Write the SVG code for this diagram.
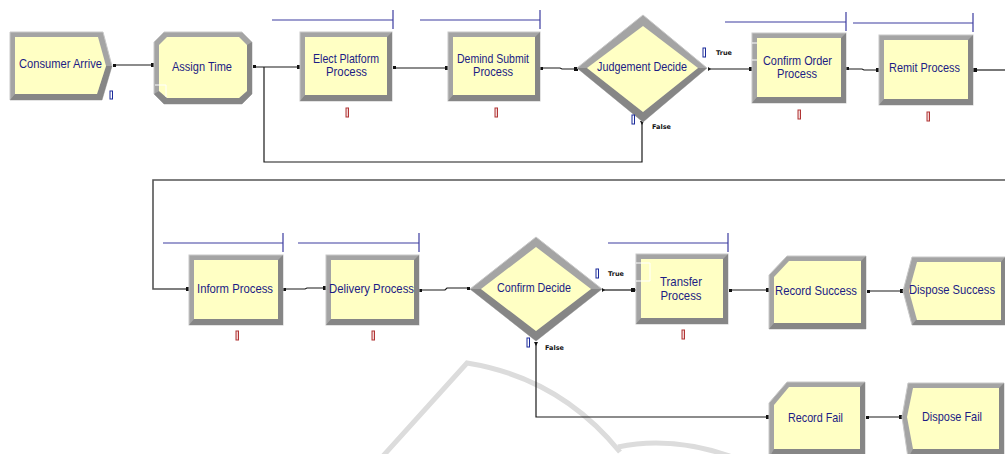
<svg xmlns="http://www.w3.org/2000/svg" width="1005" height="454" viewBox="0 0 1005 454">
<style>
.frame{fill:#a4a4a4;stroke:#c8c8c8;stroke-width:1}
.shade{fill:#868686}
.face{fill:#ffffc4}
.lbl{font-family:"Liberation Sans",Arial,sans-serif;font-size:13px;fill:#1c1c84;text-anchor:middle}
.tf{font-family:"DejaVu Sans",sans-serif;font-size:6.5px;font-weight:bold;fill:#111}
.conn{fill:none;stroke:#1a1a1a;stroke-width:1.2}
.loop{fill:none;stroke:#555;stroke-width:1.6}
.q{fill:none;stroke:#3c3ca0;stroke-width:1.2}
.bq{fill:#fff;stroke:#1a2a9a;stroke-width:1}
.rq{fill:#f2d4d4;stroke:#b03434;stroke-width:1}
.dot{fill:#111}
.wm{fill:none;stroke:#dcdcdc;stroke-width:5}
</style>
<rect width="1005" height="454" fill="#fff"/>
<g id="watermark">
<path class="wm" d="M383,456 L467,363 Q560,378 620,452"/>
<path class="wm" d="M618,447 Q670,436 730,456"/>
</g>
<g id="connectors">
<path class="conn" d="M113,65 H154"/>
<path class="conn" d="M253,67 H300"/>
<path class="conn" d="M642,123 V162 H264 V67"/>
<path class="conn" d="M393,68 H448"/>
<path class="conn" d="M541,68 H560 L562,69 H577"/>
<path class="conn" d="M709,69 H752"/>
<path class="conn" d="M847,69 H862 L864,70 H879"/>
<path class="loop" d="M974,70 H1005"/>
<path class="loop" d="M1005,180 H153 V289 H189"/>
<path class="conn" d="M284,289 H305 L307,288 H326"/>
<path class="conn" d="M420,290 H445 L447,288 H470"/>
<path class="conn" d="M604,290 H636"/>
<path class="conn" d="M729,290 H769"/>
<path class="conn" d="M867,291 H903"/>
<path class="conn" d="M536,343 V417 H769"/>
<path class="conn" d="M866,417 H902"/>
<rect class="dot" x="113" y="64" width="3" height="3"/>
<rect class="dot" x="151" y="63" width="4" height="4"/>
<rect class="dot" x="253" y="65" width="3" height="3"/>
<rect class="dot" x="297" y="65" width="4" height="4"/>
<rect class="dot" x="393" y="66" width="3" height="3"/>
<rect class="dot" x="445" y="66" width="4" height="4"/>
<rect class="dot" x="540" y="67" width="3" height="3"/>
<rect class="dot" x="574" y="67" width="4" height="4"/>
<path class="dot" d="M708,67 L711,69 L708,71 Z"/>
<rect class="dot" x="749" y="67" width="4" height="4"/>
<path class="dot" d="M640,121 L644,121 L642,125 Z"/>
<rect class="dot" x="846" y="67" width="3" height="3"/>
<rect class="dot" x="876" y="68" width="4" height="4"/>
<rect class="dot" x="973" y="68" width="4" height="4"/>
<rect class="dot" x="186" y="287" width="4" height="4"/>
<rect class="dot" x="283" y="288" width="3" height="3"/>
<rect class="dot" x="323" y="286" width="4" height="4"/>
<rect class="dot" x="419" y="289" width="3" height="3"/>
<rect class="dot" x="467" y="287" width="3" height="3"/>
<path class="dot" d="M602,288 L605,290 L602,292 Z"/>
<rect class="dot" x="631" y="288" width="4" height="4"/>
<rect class="dot" x="729" y="289" width="3" height="3"/>
<rect class="dot" x="766" y="288" width="4" height="4"/>
<rect class="dot" x="867" y="290" width="3" height="3"/>
<rect class="dot" x="900" y="289" width="4" height="4"/>
<path class="dot" d="M534,342 L538,342 L536,346 Z"/>
<rect class="dot" x="766" y="415" width="4" height="4"/>
<rect class="dot" x="866" y="416" width="3" height="3"/>
<rect class="dot" x="899" y="415" width="4" height="4"/>
</g>
<g id="consumer-arrive">
<polygon class="frame" points="10,32 103,32 112,66 102,100 10,100"/>
<polygon class="shade" points="10,100 102,100 112,66 106,66 97,94 15,94"/>
<polygon class="face" points="15,37 98,37 106,66 97,94 15,94"/>
<text class="lbl" x="60.5" y="68" textLength="83" lengthAdjust="spacingAndGlyphs">Consumer Arrive</text>
<rect class="bq" x="110" y="91" width="2.5" height="8"/>
</g>
<g id="assign-time">
<polygon class="frame" points="164,32 242,32 252,42 252,94 242,104 164,104 154,94 154,42"/>
<polygon class="shade" points="154,94 164,104 242,104 252,94 252,42 247,45 247,91 239,98 167,98 159,91"/>
<polygon class="face" points="167,37 239,37 247,45 247,91 239,98 167,98 159,91 159,45"/>
<text class="lbl" x="202" y="71" textLength="60" lengthAdjust="spacingAndGlyphs">Assign Time</text>
<path d="M155,85 H166 V97" fill="none" stroke="#fff" stroke-width="1"/>
</g>
<g id="elect-platform">
<rect class="frame" x="300" y="32" width="92" height="69"/>
<polygon class="shade" points="300,101 392,101 392,32 387,37 387,95 305,95"/>
<rect class="face" x="305" y="37" width="82" height="58"/>
<text class="lbl" x="346" y="63" textLength="66" lengthAdjust="spacingAndGlyphs">Elect Platform</text>
<text class="lbl" x="346.5" y="76" textLength="41" lengthAdjust="spacingAndGlyphs">Process</text>
<path class="q" d="M272,20 H393 M393,10 V29"/>
<rect class="rq" x="346" y="108" width="2.5" height="9"/>
</g>
<g id="demind-submit">
<rect class="frame" x="448" y="32" width="92" height="69"/>
<polygon class="shade" points="448,101 540,101 540,32 535,37 535,95 453,95"/>
<rect class="face" x="453" y="37" width="82" height="58"/>
<text class="lbl" x="493" y="63" textLength="72" lengthAdjust="spacingAndGlyphs">Demind Submit</text>
<text class="lbl" x="493" y="76" textLength="40" lengthAdjust="spacingAndGlyphs">Process</text>
<path class="q" d="M420,20 H540 M540,10 V29"/>
<rect class="rq" x="495" y="108" width="2.5" height="9"/>
</g>
<g id="judgement-decide">
<polygon class="frame" points="577,68 643,15 707,68 643,122"/>
<polygon class="shade" points="707,68 643,122 577,68 587,68 643,112 698,68"/>
<polygon class="face" points="587,68 643,26 698,68 643,112"/>
<text class="lbl" x="642" y="71" textLength="90" lengthAdjust="spacingAndGlyphs">Judgement Decide</text>
<rect class="bq" x="703" y="48" width="2.5" height="9"/>
<text class="tf" x="716" y="55">True</text>
<rect class="bq" x="632" y="115" width="2.5" height="9"/>
<text class="tf" x="652" y="129">False</text>
</g>
<g id="confirm-order">
<rect class="frame" x="752" y="33" width="94" height="70"/>
<polygon class="shade" points="752,103 846,103 846,33 841,38 841,97 757,97"/>
<rect class="face" x="757" y="38" width="84" height="59"/>
<text class="lbl" x="797.5" y="65" textLength="69" lengthAdjust="spacingAndGlyphs">Confirm Order</text>
<text class="lbl" x="797" y="78" textLength="40" lengthAdjust="spacingAndGlyphs">Process</text>
<path d="M752,43 H757 M752,60 H757" fill="none" stroke="#fff" stroke-width="1"/>
<path class="q" d="M725,22 H846 M846,12 V31"/>
<rect class="rq" x="798" y="110" width="2.5" height="9"/>
</g>
<g id="remit-process">
<rect class="frame" x="879" y="35" width="94" height="70"/>
<polygon class="shade" points="879,105 973,105 973,35 968,40 968,99 884,99"/>
<rect class="face" x="884" y="40" width="84" height="59"/>
<text class="lbl" x="924.5" y="72" textLength="71" lengthAdjust="spacingAndGlyphs">Remit Process</text>
<path class="q" d="M853,23 H973 M973,13 V32"/>
<rect class="rq" x="927" y="112" width="2.5" height="9"/>
</g>
<g id="inform-process">
<rect class="frame" x="189" y="255" width="94" height="70"/>
<polygon class="shade" points="189,325 283,325 283,255 278,260 278,319 194,319"/>
<rect class="face" x="194" y="260" width="84" height="59"/>
<text class="lbl" x="235" y="293" textLength="76" lengthAdjust="spacingAndGlyphs">Inform Process</text>
<path class="q" d="M163,243 H283 M283,233 V252"/>
<rect class="rq" x="236" y="331" width="2.5" height="9"/>
</g>
<g id="delivery-process">
<rect class="frame" x="326" y="255" width="93" height="70"/>
<polygon class="shade" points="326,325 419,325 419,255 414,260 414,319 331,319"/>
<rect class="face" x="331" y="260" width="83" height="59"/>
<text class="lbl" x="371.5" y="293" textLength="85" lengthAdjust="spacingAndGlyphs">Delivery Process</text>
<path class="q" d="M298,243 H419 M419,233 V252"/>
<rect class="rq" x="372" y="331" width="2.5" height="9"/>
</g>
<g id="confirm-decide">
<polygon class="frame" points="470,289 536,237 602,289 536,341"/>
<polygon class="shade" points="602,289 536,341 470,289 481,289 536,331 591,289"/>
<polygon class="face" points="481,289 536,247 591,289 536,331"/>
<text class="lbl" x="534" y="292" textLength="74" lengthAdjust="spacingAndGlyphs">Confirm Decide</text>
<rect class="bq" x="596" y="269" width="2.5" height="9"/>
<text class="tf" x="608" y="276">True</text>
<rect class="bq" x="527" y="338" width="2.5" height="9"/>
<text class="tf" x="545" y="350">False</text>
</g>
<g id="transfer-process">
<rect class="frame" x="636" y="254" width="92" height="70"/>
<polygon class="shade" points="636,324 728,324 728,254 723,259 723,318 641,318"/>
<rect class="face" x="641" y="259" width="82" height="59"/>
<text class="lbl" x="681" y="286" textLength="42" lengthAdjust="spacingAndGlyphs">Transfer</text>
<text class="lbl" x="681" y="300" textLength="41" lengthAdjust="spacingAndGlyphs">Process</text>
<path d="M636,263 H650 V281 H636" fill="none" stroke="#fff" stroke-width="1"/>
<path class="q" d="M608,243 H728 M728,233 V252"/>
<rect class="rq" x="682" y="330" width="2.5" height="9"/>
</g>
<g id="record-success">
<polygon class="frame" points="787,256 866,256 866,329 769,329 769,275"/>
<polygon class="shade" points="769,329 866,329 866,256 861,261 861,323 774,323"/>
<polygon class="face" points="789,261 861,261 861,323 774,323 774,277"/>
<text class="lbl" x="816" y="295" textLength="82" lengthAdjust="spacingAndGlyphs">Record Success</text>
</g>
<g id="dispose-success">
<polygon class="frame" points="912,257 1005,257 1005,325 912,325 903,291"/>
<polygon class="shade" points="912,325 1005,325 1005,257 1001,262 1001,320 916,320"/>
<polygon class="face" points="917,262 1001,262 1001,320 917,320 909,291"/>
<text class="lbl" x="952" y="294" textLength="86" lengthAdjust="spacingAndGlyphs">Dispose Success</text>
</g>
<g id="record-fail">
<polygon class="frame" points="787,382 865,382 865,458 769,458 769,403"/>
<polygon class="shade" points="769,458 865,458 865,382 860,387 860,449 774,449"/>
<polygon class="face" points="789,387 860,387 860,449 774,449 774,405"/>
<text class="lbl" x="815.5" y="422" textLength="55" lengthAdjust="spacingAndGlyphs">Record Fail</text>
</g>
<g id="dispose-fail">
<polygon class="frame" points="908,383 1004,383 1004,458 908,458 902,417"/>
<polygon class="shade" points="908,458 1004,458 1004,383 999,388 999,449 913,449"/>
<polygon class="face" points="913,388 999,388 999,449 913,449 907,417"/>
<text class="lbl" x="952" y="421" textLength="60" lengthAdjust="spacingAndGlyphs">Dispose Fail</text>
</g>
</svg>
